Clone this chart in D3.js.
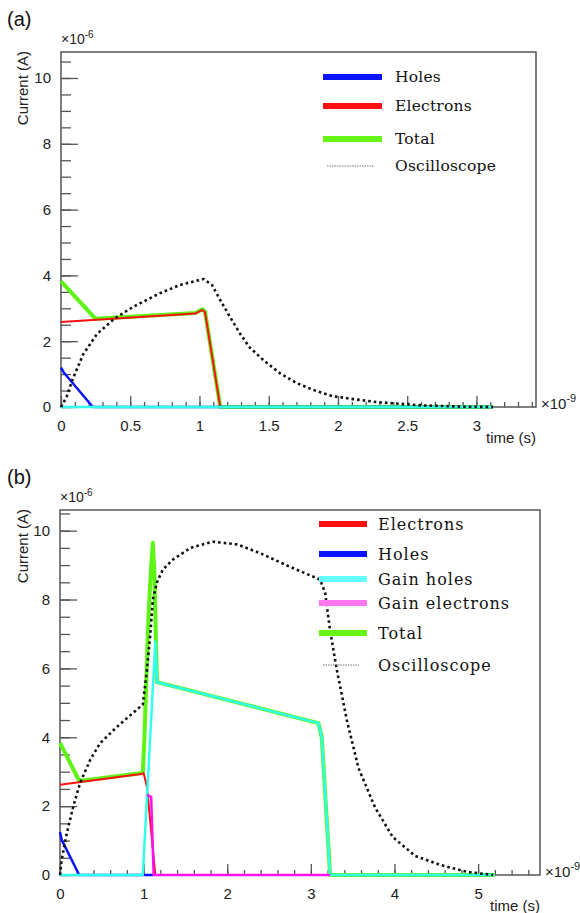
<!DOCTYPE html>
<html>
<head>
<meta charset="utf-8">
<script src="https://d3js.org/d3.v7.min.js"></script>
<style>
  body { margin: 0; background: #fff; }
  svg text { font-family: "Liberation Sans", Arial, sans-serif; }
  .legend text { font-family: "DejaVu Serif", serif; fill: #111; }
</style>
</head>
<body>
<div id="chart"></div>
<script>
// ---- panel (a) data (time in ns, current in uA) ----
const aHoles = [[0,1.2],[0.02,1.05],[0.23,0],[3.12,0]];
const aElectrons = [[0,2.58],[0.97,2.84],[1.02,2.95],[1.04,2.88],[1.15,0],[3.12,0]];
const aTotal = [[0,3.82],[0.25,2.68],[0.97,2.86],[1.02,2.97],[1.04,2.9],[1.15,0],[3.12,0]];
const aGain = [[0,0],[3.12,0]];
const aScope = [[0,0],[0.04,0.3],[0.08,0.8],[0.16,1.6],[0.26,2.22],[0.39,2.7],[0.52,3.04],[0.71,3.45],
  [0.86,3.71],[1.0,3.86],[1.03,3.89],[1.09,3.71],[1.15,3.25],[1.22,2.74],[1.29,2.25],[1.36,1.82],
  [1.46,1.43],[1.58,1.03],[1.70,0.73],[1.82,0.52],[1.96,0.33],[2.11,0.24],[2.28,0.15],[2.6,0.05],
  [2.9,0.01],[3.12,0]];

// ---- panel (b) data ----
const bElectrons = [[0,2.62],[0.99,2.94],[1.0,2.96],[1.04,2.56],[1.05,2.3],[1.14,0]];
const bHoles = [[0,1.25],[0.02,1.02],[0.23,0],[1.12,0]];
const bGainHoles = [[0,0],[0.99,0],[1.14,6.78],[1.16,5.6],[3.09,4.41],[3.13,4.0],[3.23,0],[5.2,0]];
const bGainElectrons = [[1.04,2.33],[1.09,2.27],[1.12,0],[3.23,0]];
const bTotal = [[0,3.84],[0.23,2.73],[0.99,2.96],[1.01,4.0],[1.03,5.5],[1.06,7.6],[1.09,8.95],
  [1.11,9.65],[1.13,8.7],[1.15,6.5],[1.16,5.6],[3.09,4.41],[3.13,4.0],[3.23,0],[5.2,0]];
const bScope = [[0,0],[0.02,0.44],[0.08,1.2],[0.16,2.0],[0.24,2.67],[0.36,3.34],[0.48,3.83],
  [0.68,4.3],[0.87,4.7],[0.99,4.95],[1.04,5.96],[1.08,7.0],[1.11,8.0],[1.16,8.5],[1.23,8.87],
  [1.35,9.16],[1.56,9.5],[1.83,9.68],[2.12,9.6],[2.39,9.35],[2.75,8.95],[3.11,8.58],[3.17,8.2],
  [3.23,7.1],[3.31,5.96],[3.43,4.5],[3.57,3.1],[3.77,1.95],[3.98,1.1],[4.25,0.55],[4.55,0.29],
  [4.87,0.09],[5.18,0]];

// ---- ticks and legend labels ----
const yTicks = [0, 2, 4, 6, 8, 10];
const aXTicks = [0, 0.5, 1, 1.5, 2, 2.5, 3];
const bXTicks = [0, 1, 2, 3, 4, 5];
const aLegend = ["Holes", "Electrons", "Total", "Oscilloscope"];
const bLegend = ["Electrons", "Holes", "Gain holes", "Gain electrons", "Total", "Oscilloscope"];

const colors = {
  holes: "#0a14ff", electrons: "#ff1010", total: "#5cf514",
  gainHoles: "#33ffee", gainElectrons: "#ff10f0", scope: "#111"
};
const legendColors = {
  "Holes": "#0a14ff", "Electrons": "#ff1010", "Total": "#66f514",
  "Gain holes": "#66ffff", "Gain electrons": "#ff77ee"
};

const svg = d3.select("#chart").append("svg")
  .attr("width", 580).attr("height", 913);

function drawPanel(p) {
  const x = d3.scaleLinear().domain([0, p.xMax]).range([p.left, p.right]);
  const y = d3.scaleLinear().domain([0, p.yMax]).range([p.bottom, p.top]);
  const g = svg.append("g");

  // panel tag
  g.append("text").attr("x", 7).attr("y", p.tagY)
    .style("font-size", "20px").style("fill", "#111").text(p.tag);

  // minor ticks
  const xMinor = d3.range(0, p.xMax + 1e-9, p.xMinorStep);
  const yMinor = d3.range(0, p.yMax + 1e-9, 0.5);
  g.append("g").attr("transform", `translate(0,${p.bottom})`)
    .call(d3.axisBottom(x).tickValues(xMinor).tickSize(-5).tickFormat(""))
    .call(a => a.select(".domain").remove());
  g.append("g").attr("transform", `translate(${p.left},0)`)
    .call(d3.axisLeft(y).tickValues(yMinor).tickSize(-10).tickFormat(""))
    .call(a => a.select(".domain").remove());

  // major ticks with labels
  g.append("g").attr("class", "xaxis").attr("transform", `translate(0,${p.bottom})`)
    .call(d3.axisBottom(x).tickValues(p.xTicks).tickSize(-11).tickPadding(13).tickFormat(d3.format("")))
    .call(a => a.select(".domain").remove());
  g.append("g").attr("class", "yaxis").attr("transform", `translate(${p.left},0)`)
    .call(d3.axisLeft(y).tickValues(yTicks).tickSize(-17).tickPadding(10).tickFormat(d3.format("")))
    .call(a => a.select(".domain").remove());

  g.selectAll(".tick line").attr("stroke", "#555").attr("stroke-width", 1.3);
  g.selectAll(".tick text").style("font-size", "15px").style("fill", "#222")
    .style("font-family", "'Liberation Sans', Arial, sans-serif");

  // frame
  g.append("rect").attr("x", p.left).attr("y", p.top)
    .attr("width", p.right - p.left).attr("height", p.bottom - p.top)
    .attr("fill", "none").attr("stroke", "#555").attr("stroke-width", 1.5);

  // exponent labels
  const e6 = g.append("text").attr("x", p.left).attr("y", p.top - 8)
    .style("font-size", "14px").style("fill", "#222");
  e6.append("tspan").text("×10");
  e6.append("tspan").attr("dy", -6).style("font-size", "10px").text("-6");
  const e9 = g.append("text").attr("x", p.right + 5).attr("y", p.bottom + 2)
    .style("font-size", "15px").style("fill", "#222");
  e9.append("tspan").text("×10");
  e9.append("tspan").attr("dy", -7).style("font-size", "11px").text("-9");

  // axis titles
  g.append("text").attr("x", p.right).attr("y", p.bottom + 36)
    .attr("text-anchor", "end").style("font-size", "15px").style("fill", "#222").text("time (s)");
  g.append("text").attr("transform", `translate(28,${p.top - 1}) rotate(-90)`)
    .attr("text-anchor", "end").style("font-size", "15px").style("fill", "#222").text("Current (A)");

  // series
  const line = d3.line().x(d => x(d[0])).y(d => y(d[1]));
  p.series.forEach(s => {
    const path = g.append("path").datum(s.data).attr("d", line)
      .attr("fill", "none").attr("stroke", s.color).attr("stroke-width", s.width)
      .attr("stroke-linejoin", "round");
    if (s.dash) path.attr("stroke-dasharray", s.dash).attr("stroke-linecap", "butt");
  });

  // legend
  const lg = g.append("g").attr("class", "legend");
  p.legend.forEach((name, i) => {
    const ly = p.legendY[i];
    if (name === "Oscilloscope") {
      lg.append("line").attr("x1", p.legendX0 + 4).attr("x2", p.legendX1 - 8)
        .attr("y1", ly).attr("y2", ly)
        .attr("stroke", "#777").attr("stroke-width", 1.2).attr("stroke-dasharray", "1.5,1");
    } else {
      lg.append("line").attr("x1", p.legendX0).attr("x2", p.legendX1)
        .attr("y1", ly).attr("y2", ly)
        .attr("stroke", legendColors[name]).attr("stroke-width", 6);
    }
    lg.append("text").attr("x", p.legendTextX).attr("y", ly).attr("dy", "0.35em")
      .style("font-size", p.legendFont).style("letter-spacing", p.legendSpacing).text(name);
  });
}

drawPanel({
  tag: "(a)", tagY: 26,
  left: 61, right: 536, top: 52, bottom: 407,
  xMax: 3.43, yMax: 10.79, xMinorStep: 0.1, xTicks: aXTicks,
  series: [
    {data: aTotal, color: colors.total, width: 4},
    {data: aElectrons, color: colors.electrons, width: 2},
    {data: aHoles, color: colors.holes, width: 2.5},
    {data: aGain, color: colors.gainHoles, width: 2.5},
    {data: aScope, color: colors.scope, width: 2.6, dash: "2.6,3"}
  ],
  legend: aLegend, legendY: [77, 106, 139, 166],
  legendX0: 323, legendX1: 382, legendTextX: 395, legendFont: "15.5px", legendSpacing: "0.2px"
});

drawPanel({
  tag: "(b)", tagY: 484,
  left: 60, right: 540, top: 510, bottom: 875,
  xMax: 5.74, yMax: 10.6, xMinorStep: 0.2, xTicks: bXTicks,
  series: [
    {data: bTotal, color: colors.total, width: 4},
    {data: bElectrons, color: colors.electrons, width: 2},
    {data: bHoles, color: colors.holes, width: 2.5},
    {data: bGainHoles, color: colors.gainHoles, width: 2.5},
    {data: bGainElectrons, color: colors.gainElectrons, width: 2.5},
    {data: bScope, color: colors.scope, width: 2.6, dash: "2.6,3"}
  ],
  legend: bLegend, legendY: [524, 554, 579, 603, 633, 665],
  legendX0: 319, legendX1: 367, legendTextX: 378, legendFont: "16px", legendSpacing: "1px"
});
</script>
</body>
</html>
